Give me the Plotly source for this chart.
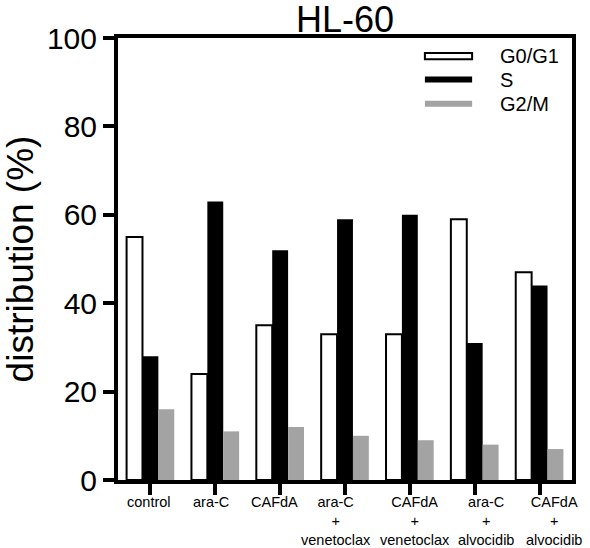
import plotly.graph_objects as go

categories = ["control", "ara-C", "CAFdA", "ara-C<br>+<br>venetoclax",
              "CAFdA<br>+<br>venetoclax", "ara-C<br>+<br>alvocidib", "CAFdA<br>+<br>alvocidib"]
g0g1 = [55, 24, 35, 33, 33, 59, 47]
s_phase = [28, 63, 52, 59, 60, 31, 44]
g2m = [16, 11, 12, 10, 9, 8, 7]
series_names = ["G0/G1", "S", "G2/M"]
y_ticks = [0, 20, 40, 60, 80, 100]

# label nudges (px) to mimic the hand-placed category labels of the original
label_shift = [-1.5, -4, -5.5, -9, 5, 11, 14]

FONT = "Liberation Sans, Arial, Helvetica, sans-serif"
x = list(range(len(categories)))

fig = go.Figure()
fig.add_bar(x=x, y=g0g1, name=series_names[0],
            marker=dict(color="white", line=dict(color="black", width=2)))
fig.add_bar(x=x, y=s_phase, name=series_names[1],
            marker=dict(color="black", line=dict(color="black", width=0)))
fig.add_bar(x=x, y=g2m, name=series_names[2],
            marker=dict(color="#a3a3a3", line=dict(width=0)))

# category labels
for xi, lab, sh in zip(x, categories, label_shift):
    fig.add_annotation(xref="x", yref="paper", x=xi, y=0, text=lab, showarrow=False,
                       xanchor="center", yanchor="top", align="center",
                       xshift=sh, yshift=-12,
                       font=dict(size=14.5, color="black", family=FONT))

# custom legend (wide rectangles like the reference)
leg_styles = [dict(fillcolor="white", line=dict(color="black", width=2)),
              dict(fillcolor="black", line=dict(color="black", width=0)),
              dict(fillcolor="#a3a3a3", line=dict(width=0))]
leg_y = [0.959, 0.906, 0.851]
for name, st, yy in zip(series_names, leg_styles, leg_y):
    fig.add_shape(type="rect", xref="paper", yref="paper",
                  x0=0.676, x1=0.780, y0=yy - 0.0068, y1=yy + 0.0068, **st)
    fig.add_annotation(xref="paper", yref="paper", x=0.838, y=yy, text=name,
                       showarrow=False, xanchor="left", yanchor="middle",
                       font=dict(size=20, color="black", family=FONT))

fig.update_layout(
    width=590, height=548,
    margin=dict(l=118, r=18, t=38, b=68),
    paper_bgcolor="white", plot_bgcolor="white",
    barmode="group", bargap=0.265, bargroupgap=0,
    showlegend=False,
    font=dict(family=FONT, color="black"),
    title=dict(text="HL-60", x=0.5, xref="paper", y=0.964, yref="container",
               xanchor="center", yanchor="middle", pad=dict(t=0, b=0),
               font=dict(size=36, family=FONT, color="black")),
)
fig.update_xaxes(range=[-0.5, 6.5], tickmode="array", tickvals=x,
                 ticktext=[""] * len(x), automargin=False,
                 showline=True, linecolor="black", linewidth=4, mirror=True,
                 ticks="outside", ticklen=11, tickwidth=4, tickcolor="black",
                 showgrid=False, zeroline=False)
fig.update_yaxes(range=[0, 100], tickmode="array", tickvals=y_ticks, automargin=False,
                 showline=True, linecolor="black", linewidth=4, mirror=True,
                 ticks="outside", ticklen=11, tickwidth=4, tickcolor="black",
                 showgrid=False, zeroline=False,
                 tickfont=dict(size=30, family=FONT, color="black"),
                 title=dict(text="distribution (%)", standoff=12,
                            font=dict(size=37, family=FONT, color="black")))

fig.write_html("out.html", config={"displayModeBar": False},
               post_script="document.body.style.margin='0';document.body.style.overflow='hidden';")
